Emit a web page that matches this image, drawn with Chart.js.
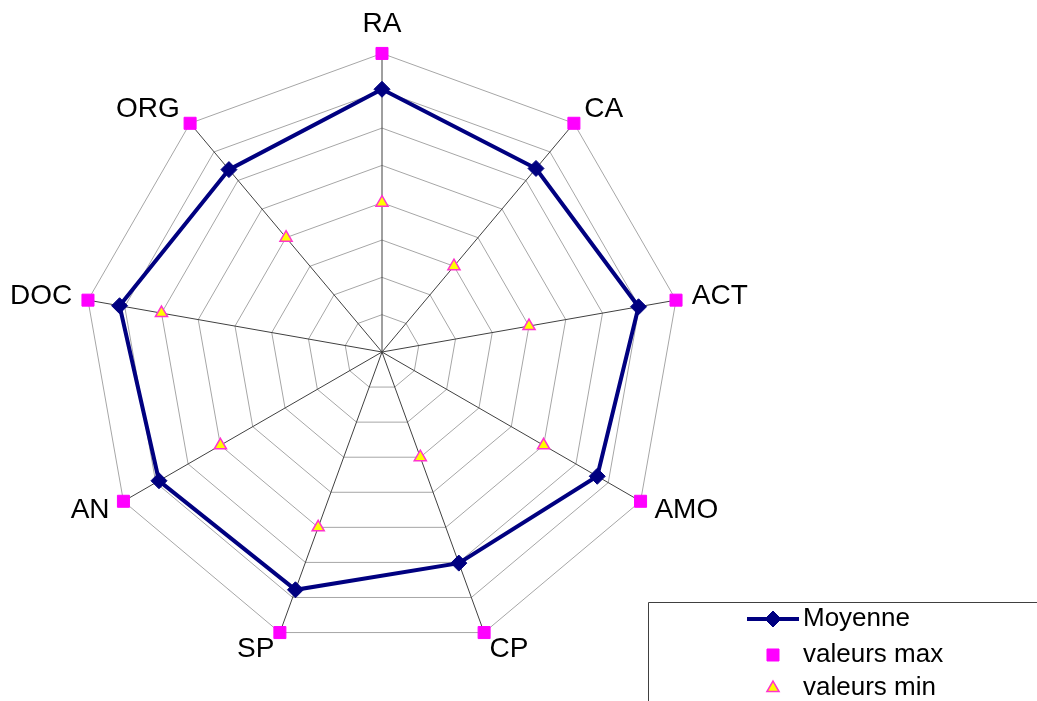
<!doctype html>
<html lang="fr">
<head>
  <meta charset="utf-8">
  <title>Radar</title>
  <script src="https://cdn.jsdelivr.net/npm/chart.js"></script>
  <style>
    html, body { margin: 0; padding: 0; overflow: hidden; background: #fff; }
    #wrap { position: absolute; left: 0; top: -35px; width: 1037px; height: 744px; }
  </style>
</head>
<body>
  <div id="wrap"><canvas id="radar" width="1037" height="744"></canvas></div>
  <script>
    const categories = ['RA', 'CA', 'ACT', 'AMO', 'CP', 'SP', 'AN', 'DOC', 'ORG'];
    const moyenne = [3.52, 3.21, 3.49, 3.33, 3.01, 3.39, 3.45, 3.57, 3.19];
    const valeursMax = [4, 4, 4, 4, 4, 4, 4, 4, 4];
    const valeursMin = [2.0, 1.5, 2.0, 2.5, 1.5, 2.5, 2.5, 3.0, 2.0];

    const OFFSET_Y = 35; // canvas is shifted up by this much

    // legend box at the bottom right, drawn from the datasets
    const boxLegend = {
      id: 'boxLegend',
      afterDraw(chart) {
        const ctx = chart.ctx;
        const top = 602 + OFFSET_Y;
        ctx.save();
        ctx.strokeStyle = '#404040';
        ctx.lineWidth = 1;
        ctx.beginPath();
        ctx.moveTo(648.5, 800);
        ctx.lineTo(648.5, top + 0.5);
        ctx.lineTo(1040, top + 0.5);
        ctx.stroke();
        ctx.font = '26px "Liberation Sans", Arial, sans-serif';
        ctx.textBaseline = 'middle';
        const rows = [619, 655, 688];
        chart.data.datasets.forEach((ds, i) => {
          const y = rows[i] + OFFSET_Y;
          if (ds.showLine !== false) {
            ctx.strokeStyle = ds.borderColor;
            ctx.lineWidth = ds.borderWidth;
            ctx.beginPath();
            ctx.moveTo(747, y);
            ctx.lineTo(799, y);
            ctx.stroke();
          }
          ctx.fillStyle = ds.pointBackgroundColor;
          ctx.strokeStyle = ds.pointBorderColor;
          ctx.lineWidth = ds.pointBorderWidth;
          Chart.helpers.drawPoint(ctx, {
            pointStyle: ds.pointStyle, radius: ds.pointRadius, rotation: 0,
            borderWidth: ds.pointBorderWidth
          }, 773, y);
          ctx.fillStyle = '#000';
          ctx.fillText(ds.label, 803, y);
        });
        ctx.restore();
      }
    };

    new Chart(document.getElementById('radar'), {
      type: 'radar',
      data: {
        labels: categories,
        datasets: [
          {
            label: 'Moyenne', data: moyenne, fill: false,
            borderColor: '#000080', borderWidth: 4,
            pointStyle: 'rectRot', pointRadius: 8,
            pointBackgroundColor: '#000080', pointBorderColor: '#000080', pointBorderWidth: 1
          },
          {
            label: 'valeurs max', data: valeursMax, showLine: false, fill: false,
            borderColor: '#FF00FF', borderWidth: 0,
            pointStyle: 'rect', pointRadius: 8.5,
            pointBackgroundColor: '#FF00FF', pointBorderColor: '#FF00FF', pointBorderWidth: 1
          },
          {
            label: 'valeurs min', data: valeursMin, showLine: false, fill: false,
            borderColor: '#FF00FF', borderWidth: 0,
            pointStyle: 'triangle', pointRadius: 7,
            pointBackgroundColor: '#FFFF00', pointBorderColor: '#FF33CC', pointBorderWidth: 1.5
          }
        ]
      },
      options: {
        responsive: false,
        animation: false,
        layout: { padding: { left: 7, right: 286, top: 0, bottom: 0 } },
        plugins: { legend: { display: false }, tooltip: { enabled: false } },
        scales: {
          r: {
            min: 0, max: 4,
            ticks: { stepSize: 0.5, display: false },
            grid: { color: '#a6a6a6', lineWidth: 1, circular: false },
            angleLines: { color: '#404040', lineWidth: 1 },
            pointLabels: {
              color: '#000',
              padding: (c) => (c.index === 0 ? 28 : 16),
              // tiny line height keeps each label centred on its anchor point
              font: { family: '"Liberation Sans", Arial, sans-serif', size: 28, lineHeight: 0.1 }
            }
          }
        }
      },
      plugins: [boxLegend]
    });
  </script>
</body>
</html>
